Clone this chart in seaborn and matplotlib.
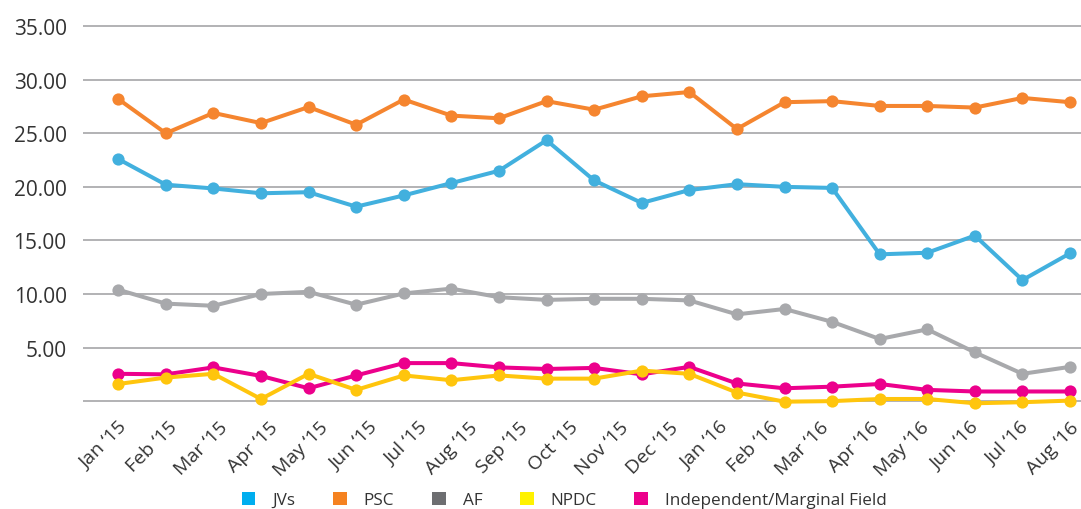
import numpy as np
import pandas as pd
import seaborn as sns
import matplotlib.pyplot as plt
from matplotlib.patches import Patch

months = ["Jan ‘15", "Feb ‘15", "Mar ‘15", "Apr ‘15", "May ‘15", "Jun ‘15", "Jul ‘15",
          "Aug ‘15", "Sep ‘15", "Oct ‘15", "Nov ‘15", "Dec ‘15", "Jan ‘16", "Feb ‘16",
          "Mar ‘16", "Apr ‘16", "May ‘16", "Jun ‘16", "Jul ‘16", "Aug ‘16"]

# the source chart has 21 points but only 20 month labels
point = list(range(21))

jvs = [22.6, 20.2, 19.85, 19.4, 19.5, 18.15, 19.2, 20.35, 21.5, 24.35, 20.6,
       18.5, 19.7, 20.25, 20.0, 19.9, 13.7, 13.85, 15.45, 11.3, 13.8]
psc = [28.2, 25.0, 26.9, 25.95, 27.45, 25.8, 28.15, 26.65, 26.4, 28.0, 27.2,
       28.45, 28.85, 25.4, 27.9, 28.0, 27.55, 27.55, 27.4, 28.3, 27.9]
af = [10.4, 9.1, 8.9, 10.0, 10.2, 9.0, 10.05, 10.5, 9.7, 9.45, 9.55,
      9.55, 9.4, 8.1, 8.6, 7.4, 5.8, 6.7, 4.55, 2.55, 3.2]
npdc = [1.6, 2.2, 2.55, 0.2, 2.55, 1.05, 2.4, 1.95, 2.4, 2.1, 2.1,
        2.85, 2.55, 0.8, -0.05, 0.0, 0.2, 0.2, -0.2, -0.1, 0.05]
indep = [2.55, 2.5, 3.15, 2.35, 1.2, 2.4, 3.55, 3.55, 3.15, 3.0, 3.1,
         2.5, 3.2, 1.65, 1.2, 1.35, 1.6, 1.05, 0.9, 0.9, 0.9]

series = ["JVs", "PSC", "AF", "NPDC", "Independent/Marginal Field"]
line_colors = {"JVs": "#42B0DE", "PSC": "#F5852F", "AF": "#A8A9AC",
               "NPDC": "#FFC50D", "Independent/Marginal Field": "#EC008C"}
legend_colors = ["#00AEEF", "#F58220", "#6D6E71", "#FFF200", "#EC008C"]

yticks = [0, 5, 10, 15, 20, 25, 30, 35]

frames = []
for name, vals in zip(series, [jvs, psc, af, npdc, indep]):
    frames.append(pd.DataFrame({"point": point, "value": vals, "series": name}))
df = pd.concat(frames)

sns.set_style("white")
plt.rcParams['font.family'] = ['Open Sans', 'DejaVu Sans']
text_color = "#333333"

fig = plt.figure(figsize=(10.81, 5.10), dpi=100)
ax = fig.add_axes([0.077, 0.201, 0.923, 0.750])

# pink goes under yellow in the original
draw_order = ["JVs", "PSC", "AF", "Independent/Marginal Field", "NPDC"]
sns.lineplot(data=df, x="point", y="value", hue="series", hue_order=draw_order,
             palette=line_colors, marker="o", markersize=8.8, markeredgewidth=0,
             linewidth=2.9, legend=False, ax=ax, clip_on=False)

ax.set_xlim(-0.735, 20.23)
ax.set_ylim(-0.5, 35.2)
ax.set_yticks(yticks)
ax.set_yticklabels(["" if t == 0 else f"{t:.2f}" for t in yticks],
                   fontsize=15, color=text_color)
ax.yaxis.grid(True, color="#B2B2B4", linewidth=1.4)
ax.xaxis.grid(False)
ax.set_axisbelow(True)
ax.tick_params(axis="y", length=0, pad=12)
ax.tick_params(axis="x", length=0, pad=8)

ax.set_xticks(np.linspace(0, 20, len(months)))
ax.set_xticklabels(months, rotation=45, ha="right", va="top",
                   rotation_mode="anchor", fontsize=14, color=text_color)
ax.set_xlabel("")
ax.set_ylabel("")
for s in ax.spines.values():
    s.set_visible(False)

handles = [Patch(facecolor=c, edgecolor="none") for c in legend_colors]
fig.legend(handles, series, loc="center", bbox_to_anchor=(0.522, 0.018),
           ncol=5, frameon=False, fontsize=12.3, handlelength=0.8, handleheight=0.8,
           handletextpad=1.0, columnspacing=2.2, labelcolor=text_color,
           borderpad=0)

fig.savefig("out.png", dpi=100)
